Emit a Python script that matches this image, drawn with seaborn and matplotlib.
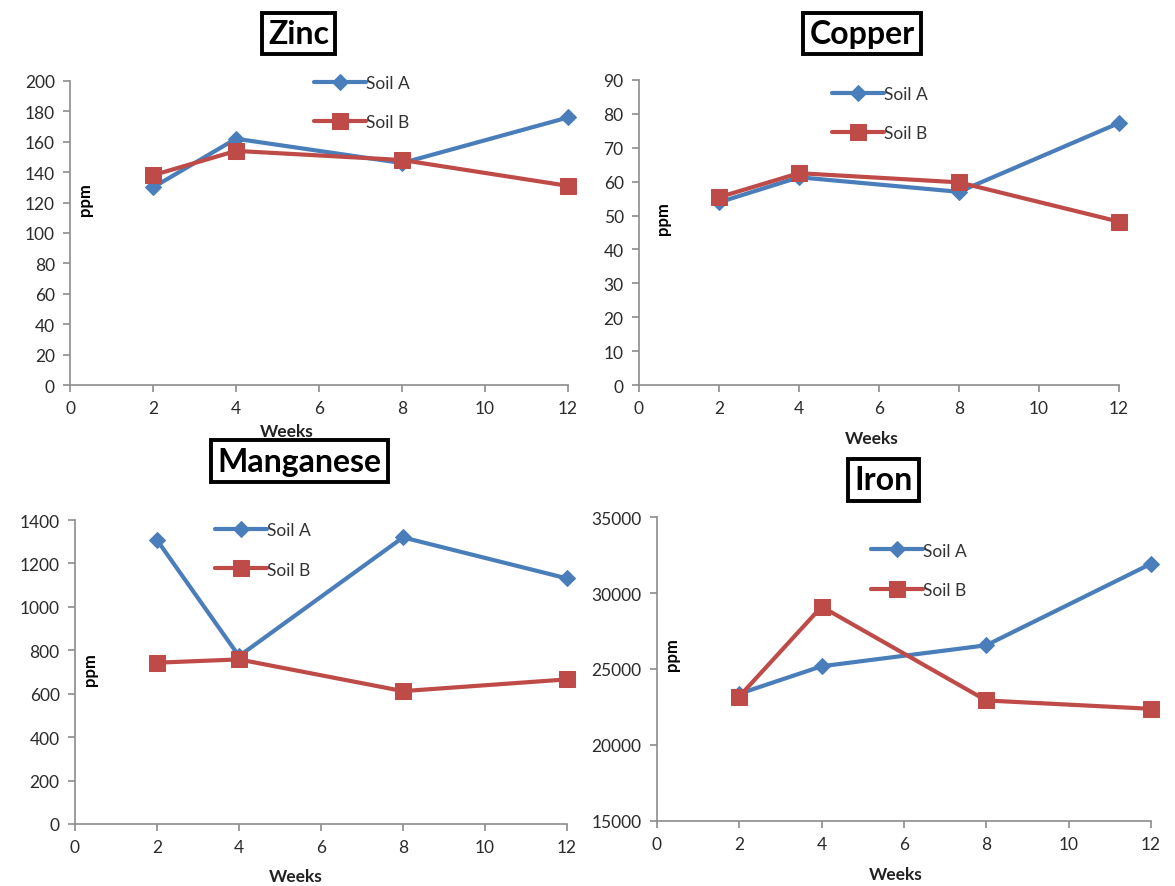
import matplotlib
matplotlib.use("Agg")
import matplotlib.pyplot as plt
import seaborn as sns
import pandas as pd

weeks = [2, 4, 8, 12]

zinc_a = [130, 162, 146, 176]
zinc_b = [138, 154, 148, 131]

copper_a = [53.9, 61.3, 57.0, 77.3]
copper_b = [55.4, 62.5, 59.8, 48.2]

manganese_a = [1308, 773, 1320, 1131]
manganese_b = [743, 758, 612, 666]

iron_a = [23370, 25180, 26560, 31920]
iron_b = [23190, 29100, 22930, 22380]

series_names = ["Soil A", "Soil B"]
x_ticks = [0, 2, 4, 6, 8, 10, 12]

sns.set_theme(style="white")
plt.rcParams["font.family"] = ["Lato", "DejaVu Sans"]

BLUE = "#4A7EBB"
RED = "#BE4B48"
AXIS_GREY = "#8C8C8C"

fig = plt.figure(figsize=(11.75, 8.87), dpi=100)

panels = [
    # title, values A, values B, axes rect, y range, y step, title pos, legend pos, ppm pos, weeks pos
    ("Zinc", zinc_a, zinc_b, [0.0596, 0.5648, 0.4238, 0.3428], (0, 200), 20,
     (0.254, 0.961), (0.308, 0.883), (0.072, 0.775), (0.244, 0.513)),
    ("Copper", copper_a, copper_b, [0.5438, 0.5648, 0.4085, 0.3439], (0, 90), 10,
     (0.734, 0.961), (0.749, 0.871), (0.564, 0.754), (0.742, 0.505)),
    ("Manganese", manganese_a, manganese_b, [0.0638, 0.0699, 0.4188, 0.3427], (0, 1400), 200,
     (0.255, 0.479), (0.224, 0.379), (0.077, 0.245), (0.252, 0.011)),
    ("Iron", iron_a, iron_b, [0.5591, 0.0733, 0.4204, 0.3427], (15000, 35000), 5000,
     (0.752, 0.458), (0.782, 0.356), (0.572, 0.262), (0.762, 0.013)),
]

for (title, vals_a, vals_b, rect, yr, ystep, tpos, lpos, ppos, wpos) in panels:
    ax = fig.add_axes(rect)
    df = pd.DataFrame({
        "week": weeks * 2,
        "ppm": vals_a + vals_b,
        "soil": [series_names[0]] * 4 + [series_names[1]] * 4,
    })
    sns.lineplot(data=df[df.soil == "Soil A"], x="week", y="ppm", ax=ax,
                 color=BLUE, linewidth=3, marker="D", markersize=8,
                 markeredgecolor=BLUE, label="Soil A", clip_on=False)
    sns.lineplot(data=df[df.soil == "Soil B"], x="week", y="ppm", ax=ax,
                 color=RED, linewidth=3, marker="s", markersize=11,
                 markeredgecolor=RED, label="Soil B", clip_on=False)

    ax.set_xlim(0, 12)
    ax.set_ylim(*yr)
    ax.set_xticks(x_ticks)
    ax.set_yticks(list(range(yr[0], yr[1] + 1, ystep)))
    ax.set_xlabel("")
    ax.set_ylabel("")
    for side in ("top", "right"):
        ax.spines[side].set_visible(False)
    for side in ("left", "bottom"):
        ax.spines[side].set_color(AXIS_GREY)
        ax.spines[side].set_linewidth(1.2)
    ax.tick_params(axis="both", direction="out", length=5, width=1.2,
                   color=AXIS_GREY, labelsize=12.5, labelcolor="#2b2b2b",
                   left=True, bottom=True, pad=6)
    ax.margins(0)

    leg = ax.legend(loc="center", bbox_to_anchor=lpos, bbox_transform=fig.transFigure,
                    frameon=False, fontsize=12.5, handlelength=3.0, handletextpad=0.0,
                    labelspacing=1.35, borderaxespad=0)
    for txt in leg.get_texts():
        txt.set_color("#333333")

    fig.text(*tpos, title, ha="center", va="center", fontsize=23, fontweight="bold",
             color="black",
             bbox=dict(boxstyle="square,pad=0.2", fc="white", ec="black", lw=2.8))
    fig.text(*ppos, "ppm", ha="center", va="center", rotation=90,
             fontsize=12, fontweight="bold", color="black")
    fig.text(*wpos, "Weeks", ha="center", va="center",
             fontsize=12.5, fontweight="bold", color="#222222")

fig.savefig("out.png", dpi=100, facecolor="white")
